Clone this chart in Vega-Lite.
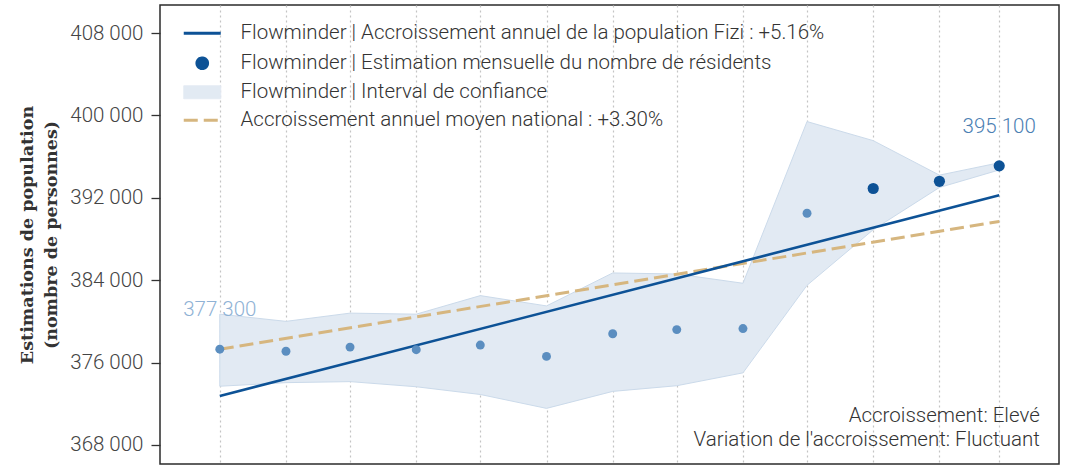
{
  "$schema": "https://vega.github.io/schema/vega-lite/v6.json",
  "width": 899,
  "height": 459,
  "autosize": "none",
  "padding": {"left": 160, "top": 5, "right": 12, "bottom": 3},
  "background": "white",
  "config": {
    "locale": {"number": {"decimal": ",", "thousands": "\u00a0", "grouping": [3], "currency": ["", ""]}},
    "view": {"stroke": "#2b2b2b", "strokeWidth": 1.5},
    "font": "Roboto"
  },
  "datasets": {
    "monthly": [
      {"date": "2022-03-01", "estimate": 377300, "lower": 373700, "upper": 380700, "period": "earlier"},
      {"date": "2022-04-01", "estimate": 377100, "lower": 374050, "upper": 380000, "period": "earlier"},
      {"date": "2022-05-01", "estimate": 377500, "lower": 374150, "upper": 380800, "period": "earlier"},
      {"date": "2022-06-01", "estimate": 377250, "lower": 373650, "upper": 380700, "period": "earlier"},
      {"date": "2022-07-01", "estimate": 377700, "lower": 372900, "upper": 382500, "period": "earlier"},
      {"date": "2022-08-01", "estimate": 376600, "lower": 371550, "upper": 381500, "period": "earlier"},
      {"date": "2022-09-01", "estimate": 378800, "lower": 373200, "upper": 384700, "period": "earlier"},
      {"date": "2022-10-01", "estimate": 379200, "lower": 373750, "upper": 384600, "period": "earlier"},
      {"date": "2022-11-01", "estimate": 379300, "lower": 375000, "upper": 383700, "period": "earlier"},
      {"date": "2022-12-01", "estimate": 390500, "lower": 383500, "upper": 399400, "period": "earlier"},
      {"date": "2023-01-01", "estimate": 392900, "lower": 388900, "upper": 397550, "period": "recent"},
      {"date": "2023-02-01", "estimate": 393600, "lower": 393000, "upper": 394200, "period": "recent"},
      {"date": "2023-03-01", "estimate": 395100, "lower": 394700, "upper": 395400, "period": "recent"}
    ],
    "trend": [
      {"date": "2022-03-01", "value": 372750, "series": "Flowminder | Accroissement annuel de la population Fizi : +5.16%"},
      {"date": "2023-03-01", "value": 392250, "series": "Flowminder | Accroissement annuel de la population Fizi : +5.16%"}
    ],
    "national": [
      {"date": "2022-03-01", "value": 377300},
      {"date": "2023-03-01", "value": 389700}
    ]
  },
  "layer": [
    {
      "data": {"name": "monthly"},
      "mark": {"type": "area", "color": "#e2eaf3", "stroke": "#cbdaea", "strokeWidth": 1},
      "encoding": {
        "x": {
          "field": "date", "type": "temporal",
          "scale": {"type": "utc", "domain": [{"year": 2022, "month": 2, "date": 1, "utc": true}, {"year": 2023, "month": 3, "date": 29, "utc": true}]},
          "axis": {
            "values": [
              {"year": 2022, "month": 3, "date": 1, "utc": true},
              {"year": 2022, "month": 4, "date": 1, "utc": true},
              {"year": 2022, "month": 5, "date": 1, "utc": true},
              {"year": 2022, "month": 6, "date": 1, "utc": true},
              {"year": 2022, "month": 7, "date": 1, "utc": true},
              {"year": 2022, "month": 8, "date": 1, "utc": true},
              {"year": 2022, "month": 9, "date": 1, "utc": true},
              {"year": 2022, "month": 10, "date": 1, "utc": true},
              {"year": 2022, "month": 11, "date": 1, "utc": true},
              {"year": 2022, "month": 12, "date": 1, "utc": true},
              {"year": 2023, "month": 1, "date": 1, "utc": true},
              {"year": 2023, "month": 2, "date": 1, "utc": true},
              {"year": 2023, "month": 3, "date": 1, "utc": true}
            ],
            "title": null, "labels": false, "ticks": false, "domain": false,
            "grid": true, "gridDash": [2, 3], "gridColor": "#c4c4c4", "gridWidth": 1.2
          }
        },
        "y": {
          "field": "lower", "type": "quantitative",
          "title": ["Estimations de population", "(nombre de personnes)"],
          "scale": {"domain": [366150, 410720], "nice": false, "zero": false},
          "axis": {
            "values": [368000, 376000, 384000, 392000, 400000, 408000],
            "format": ",d",
            "titleFont": "DejaVu Serif", "titleFontSize": 17.5, "titleFontWeight": "bold",
            "titleColor": "#333", "titleLineHeight": 24, "titlePadding": 9,
            "labelFont": "Roboto", "labelFontSize": 20.5, "labelFontWeight": 300, "labelColor": "#444",
            "labelPadding": 8, "tickSize": 9, "tickColor": "#333", "tickWidth": 1.3,
            "domain": false, "grid": false
          }
        },
        "y2": {"field": "upper"}
      }
    },
    {
      "data": {"name": "national"},
      "mark": {"type": "line", "color": "#d6b67f", "strokeWidth": 3, "strokeDash": [14, 6]},
      "encoding": {
        "x": {"field": "date", "type": "temporal"},
        "y": {"field": "value", "type": "quantitative", "title": ["Estimations de population", "(nombre de personnes)"]}
      }
    },
    {
      "data": {"name": "trend"},
      "mark": {"type": "line", "strokeWidth": 2.6},
      "encoding": {
        "x": {"field": "date", "type": "temporal"},
        "y": {"field": "value", "type": "quantitative", "title": ["Estimations de population", "(nombre de personnes)"]},
        "color": {
          "field": "series", "type": "nominal",
          "scale": {
            "domain": [
              "Flowminder | Accroissement annuel de la population Fizi : +5.16%",
              "Flowminder | Estimation mensuelle du nombre de résidents",
              "Flowminder | Interval de confiance",
              "Accroissement annuel moyen national : +3.30%"
            ],
            "range": ["#0d5296", "#0d5296", "#e2eaf3", "#d6b67f"]
          },
          "legend": {
            "title": null, "orient": "none", "legendX": 24, "legendY": 18,
            "symbolSize": 400, "rowPadding": 7, "labelOffset": 28, "symbolOffset": 8,
            "labelFont": "Roboto", "labelFontSize": 20.5, "labelFontWeight": 300, "labelColor": "#333", "labelLimit": 1000,
            "encode": {
              "symbols": {
                "update": {
                  "shape": {"signal": "datum.value == 'Flowminder | Estimation mensuelle du nombre de résidents' ? 'circle' : datum.value == 'Flowminder | Interval de confiance' ? 'M-1.85,-0.65H1.85V0.65H-1.85Z' : 'M-1.85,0H1.85'"},
                  "size": {"signal": "datum.value == 'Flowminder | Estimation mensuelle du nombre de résidents' ? 113 : 400"},
                  "fill": {"signal": "datum.value == 'Flowminder | Estimation mensuelle du nombre de résidents' ? '#0d5296' : datum.value == 'Flowminder | Interval de confiance' ? '#e2eaf3' : 'transparent'"},
                  "stroke": {"signal": "datum.value == 'Flowminder | Estimation mensuelle du nombre de résidents' ? 'transparent' : datum.value == 'Flowminder | Interval de confiance' ? '#cbdaea' : datum.value == 'Accroissement annuel moyen national : +3.30%' ? '#d6b67f' : '#0d5296'"},
                  "strokeWidth": {"signal": "datum.value == 'Flowminder | Interval de confiance' ? 1 : 3"},
                  "strokeDash": {"signal": "datum.value == 'Accroissement annuel moyen national : +3.30%' ? [14, 6] : [1, 0]"},
                  "opacity": {"value": 1}
                }
              }
            }
          }
        }
      }
    },
    {
      "data": {"name": "monthly"},
      "mark": {"type": "circle", "opacity": 1},
      "encoding": {
        "x": {"field": "date", "type": "temporal"},
        "y": {"field": "estimate", "type": "quantitative", "title": ["Estimations de population", "(nombre de personnes)"]},
        "fill": {"field": "period", "type": "nominal", "scale": {"domain": ["earlier", "recent"], "range": ["#5b8ec0", "#0d5296"]}, "legend": null},
        "size": {"field": "period", "type": "ordinal", "scale": {"domain": ["earlier", "recent"], "range": [80, 125]}, "legend": null}
      }
    },
    {
      "data": {"name": "monthly"},
      "transform": [{"filter": "datum.estimate == 377300 || datum.estimate == 395100"}],
      "mark": {"type": "text", "dy": -39, "fontSize": 20.5, "fontWeight": 300, "font": "Roboto", "baseline": "middle"},
      "encoding": {
        "x": {"field": "date", "type": "temporal"},
        "y": {"field": "estimate", "type": "quantitative", "title": ["Estimations de population", "(nombre de personnes)"]},
        "text": {"field": "estimate", "type": "quantitative", "format": ",d"},
        "fill": {"field": "period", "type": "nominal", "scale": {"domain": ["earlier", "recent"], "range": ["#8fb2d5", "#4b80b3"]}, "legend": null}
      }
    },
    {
      "data": {"values": [{"note": "Accroissement: Elevé\nVariation de l'accroissement: Fluctuant"}]},
      "mark": {"type": "text", "align": "right", "baseline": "alphabetic", "lineBreak": "\n", "lineHeight": 24, "fontSize": 20.5, "fontWeight": 300, "font": "Roboto", "color": "#333"},
      "encoding": {
        "x": {"datum": {"year": 2023, "month": 3, "date": 20, "utc": true}, "type": "temporal"},
        "y": {"datum": 370260, "type": "quantitative", "title": ["Estimations de population", "(nombre de personnes)"]},
        "text": {"field": "note", "type": "nominal"}
      }
    }
  ],
  "resolve": {"scale": {"fill": "independent"}}
}
